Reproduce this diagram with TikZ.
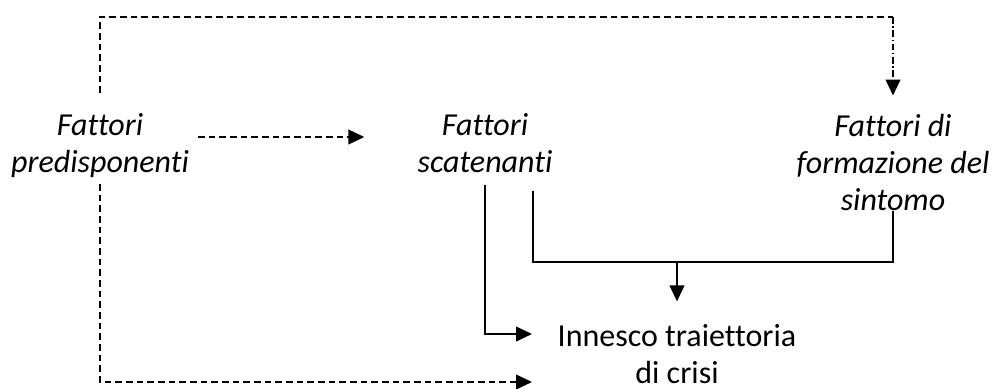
\documentclass[tikz,border=0pt]{standalone}
\usepackage{fontspec}
\setmainfont{Carlito}[Ligatures={NoCommon}]
\usepackage{tikz}
\usetikzlibrary{arrows.meta}
\tikzset{>={Triangle[length=12pt,width=11pt]}}

\begin{document}
\begin{tikzpicture}[
x=0.75pt, y=-0.75pt,
factornode/.style={align=center, inner sep=0pt, anchor=base, font=\fontsize{24}{27.5}\selectfont\itshape},
outcomenode/.style={align=center, inner sep=0pt, anchor=base, font=\fontsize{24}{27.5}\selectfont},
dashlink/.style={line width=1.5pt, dash pattern=on 5pt off 3pt},
dotlink/.style={line width=1.5pt, dash pattern=on 5pt off 2pt on 1pt off 2pt},
solidlink/.style={line width=1.5pt},
]
\useasboundingbox[fill=white] (0,0) rectangle (993,389);
%Nodes
\node[factornode](Predisponenti) at (100,172){Fattori\\predisponenti};
\node[factornode](Scatenanti) at (485,172){Fattori\\scatenanti};
\node[factornode](Formazione) at (893,210){Fattori di\\formazione del\\sintomo};
\node[outcomenode](Innesco) at (677,383){Innesco traiettoria\\di crisi};

%Corners
\coordinate (TopLeft) at (100,17);
\coordinate (TopRight) at (893,17);
\coordinate (BottomTip) at (532,382);
\coordinate (InnescoTip) at (532,334);
\coordinate (JoinLeft) at (533,262);
\coordinate (JoinRight) at (893,262);
\coordinate (JoinMid) at (677,262);

%Lines
\draw[dashlink, shorten <=15pt] (Predisponenti.north) -- (TopLeft) -- (TopRight);
\draw[dotlink, ->, shorten >=14pt] (TopRight) -- (Formazione.north);
\draw[dashlink, ->] ([shift={(9,-35)}]Predisponenti.base east) -- ([shift={(-53,-35)}]Scatenanti.base west);
\draw[dashlink, ->, shorten <=5pt] (Predisponenti.south) |- (BottomTip);
\draw[solidlink, ->, shorten <=9pt] (Scatenanti.south) |- (InnescoTip);
\draw[solidlink, shorten <=13.5pt] (Scatenanti.south -| JoinLeft) -- (JoinLeft) -- (JoinRight) -- (Formazione.south);
\draw[solidlink, ->, shorten >=17pt] (JoinMid) -- (Innesco.north);
\end{tikzpicture}
\end{document}
